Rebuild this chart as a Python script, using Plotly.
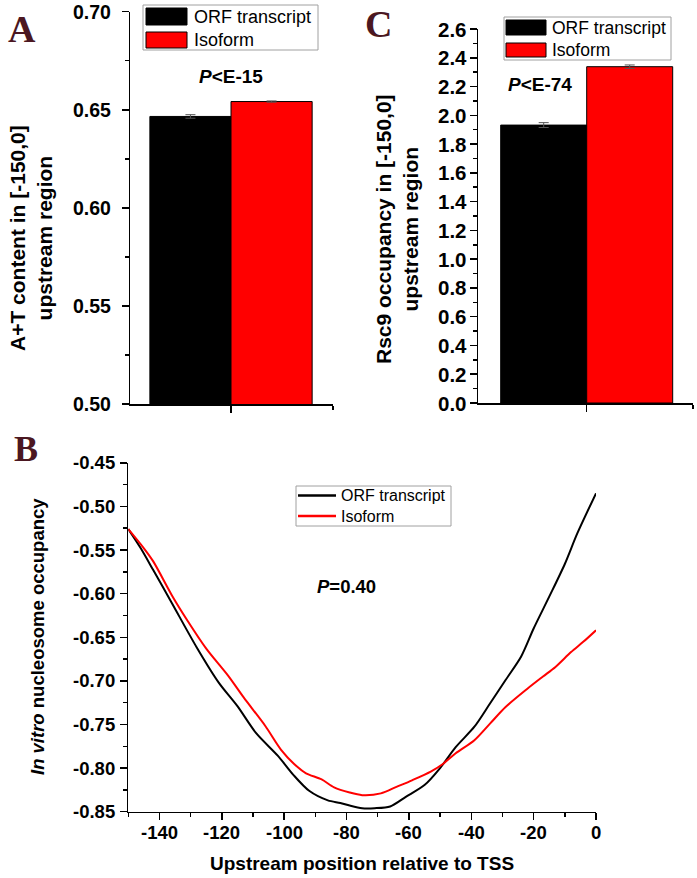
import plotly.graph_objects as go

W, H = 697, 878

# ---------------- data ----------------
groups = ["ORF transcript", "Isoform"]
group_index = [0, 1]
bar_colors = ["#000000", "#FF0000"]

at_content = [0.6466, 0.6542]
at_err = [0.0009, 0.0003]

rsc9_occ = [1.932, 2.338]
rsc9_err = [0.017, 0.012]

orf_pos = [-150, -146, -142, -136, -128, -121, -115, -109, -102, -97, -92, -86, -82, -79,
           -75, -71, -66, -61, -55, -50, -45, -39, -34, -29, -24, -20, -15, -10, -6, 0]
orf_occ = [-0.526, -0.548, -0.573, -0.611, -0.662, -0.702, -0.729, -0.760, -0.786, -0.808,
           -0.826, -0.837, -0.840, -0.843, -0.846, -0.846, -0.844, -0.833, -0.8195, -0.800,
           -0.776, -0.7526, -0.726, -0.699, -0.672, -0.640, -0.6035, -0.566, -0.531, -0.485]

iso_pos = [-150, -145, -142, -136, -131, -125, -118, -113, -106, -101, -96, -93, -88, -84,
           -79, -75, -69, -64, -59, -53, -49, -45, -39, -34, -29, -22, -17, -13, -8, -4, 0]
iso_occ = [-0.526, -0.548, -0.563, -0.602, -0.631, -0.663, -0.694, -0.719, -0.752, -0.779,
           -0.798, -0.806, -0.813, -0.822, -0.828, -0.831, -0.829, -0.8215, -0.814, -0.804,
           -0.795, -0.783, -0.768, -0.749, -0.730, -0.709, -0.695, -0.684, -0.667, -0.655, -0.642]

# tick labels
a_ticks = [0.50, 0.55, 0.60, 0.65, 0.70]
a_ticklabels = ["0.50", "0.55", "0.60", "0.65", "0.70"]
c_ticks = [0.0, 0.2, 0.4, 0.6, 0.8, 1.0, 1.2, 1.4, 1.6, 1.8, 2.0, 2.2, 2.4, 2.6]
c_ticklabels = ["0.0", "0.2", "0.4", "0.6", "0.8", "1.0", "1.2", "1.4", "1.6", "1.8",
                "2.0", "2.2", "2.4", "2.6"]
b_yticks = [-0.85, -0.80, -0.75, -0.70, -0.65, -0.60, -0.55, -0.50, -0.45]
b_yticklabels = ["-0.85", "-0.80", "-0.75", "-0.70", "-0.65", "-0.60", "-0.55", "-0.50", "-0.45"]
b_xticks = [-140, -120, -100, -80, -60, -40, -20, 0]
b_xticklabels = ["-140", "-120", "-100", "-80", "-60", "-40", "-20", "0"]

# ---------------- helpers ----------------
FONT = "Liberation Sans, Arial, sans-serif"
SERIF = "Liberation Serif, Times New Roman, serif"
LETTER_COLOR = "#4B1721"


def px(x):
    return x / W


def py(y):
    return 1 - y / H


fig = go.Figure()

# Panel A bars
fig.add_trace(go.Bar(
    x=group_index, y=at_content, width=1,
    marker=dict(color=bar_colors, line=dict(color="black", width=1)),
    error_y=dict(type="data", array=at_err, color="#555555", thickness=1, width=5),
    xaxis="x", yaxis="y", showlegend=False,
))
# Panel C bars
fig.add_trace(go.Bar(
    x=group_index, y=rsc9_occ, width=1,
    marker=dict(color=bar_colors, line=dict(color="black", width=1)),
    error_y=dict(type="data", array=rsc9_err, color="#555555", thickness=1, width=5),
    xaxis="x2", yaxis="y2", showlegend=False,
))
# Panel B lines
fig.add_trace(go.Scatter(x=orf_pos, y=orf_occ, mode="lines",
                         line=dict(color="black", width=2, shape="spline", smoothing=0.8),
                         xaxis="x3", yaxis="y3", showlegend=False))
fig.add_trace(go.Scatter(x=iso_pos, y=iso_occ, mode="lines",
                         line=dict(color="#FF0000", width=2, shape="spline", smoothing=0.8),
                         xaxis="x3", yaxis="y3", showlegend=False))

axis_common = dict(showline=True, linecolor="black", linewidth=1.5, ticks="outside",
                   ticklen=7, tickwidth=1.5, tickcolor="black", showgrid=False,
                   zeroline=False, mirror=False, showticklabels=False, automargin=False)
minor_common = dict(ticklen=4, tickcolor="black", tickwidth=1.5)

fig.update_layout(
    width=W, height=H, margin=dict(l=0, r=0, t=0, b=0, autoexpand=False),
    paper_bgcolor="white", plot_bgcolor="white", bargap=0,
    xaxis=dict(domain=[px(130), px(333)], range=[-0.745, 1.757], anchor="y",
               tickvals=[0.5],
               minor=dict(tickvals=[1.757], **minor_common),
               **axis_common),
    yaxis=dict(domain=[py(404), py(11.7)], range=[0.5, 0.7], anchor="x",
               tickvals=a_ticks,
               minor=dict(dtick=0.025, **minor_common),
               **axis_common),
    xaxis2=dict(domain=[px(478), px(693)], range=[-0.764, 1.736], anchor="y2",
                tickvals=[0.5],
                minor=dict(tickvals=[1.736], **minor_common),
                **axis_common),
    yaxis2=dict(domain=[py(403), py(29)], range=[0, 2.6], anchor="x2",
                tickvals=c_ticks,
                minor=dict(dtick=0.1, **minor_common),
                **axis_common),
    xaxis3=dict(domain=[px(128.3), px(596)], range=[-150, 0], anchor="y3",
                tickvals=b_xticks,
                minor=dict(dtick=10, tick0=0, **minor_common),
                **axis_common),
    yaxis3=dict(domain=[py(811.7), py(462.8)], range=[-0.85, -0.45], anchor="x3",
                tickvals=b_yticks,
                minor=dict(dtick=0.025, tick0=-0.85, **minor_common),
                **axis_common),
)

shapes = []
annotations = []


def text(x, y, s, size, xanchor="center", angle=0, family=FONT, color="black",
         xref="paper", yref="paper"):
    annotations.append(dict(
        x=px(x) if xref == "paper" else x, y=py(y) if yref == "paper" else y,
        xref=xref, yref=yref, text=s, showarrow=False,
        xanchor=xanchor, yanchor="middle", textangle=angle,
        font=dict(family=family, size=size, color=color),
    ))


def rect(x0, y0, x1, y1, fill, line_color, lw=1):
    shapes.append(dict(type="rect", xref="paper", yref="paper",
                       x0=px(x0), x1=px(x1), y0=py(y1), y1=py(y0),
                       fillcolor=fill, line=dict(color=line_color, width=lw)))


# Bold tick labels, placed through the axes' own scales
for v, s in zip(a_ticks, a_ticklabels):
    text(113, v, "<b>%s</b>" % s, 19.5, xanchor="right", yref="y")
for v, s in zip(c_ticks, c_ticklabels):
    text(469, v, "<b>%s</b>" % s, 20.5, xanchor="right", yref="y2")
for v, s in zip(b_yticks, b_yticklabels):
    text(117, v, "<b>%s</b>" % s, 18.5, xanchor="right", yref="y3")
for v, s in zip(b_xticks, b_xticklabels):
    text(v, 832, "<b>%s</b>" % s, 18.5, xref="x3")

# Panel letters
text(22, 29, "<b>A</b>", 38, family=SERIF, color=LETTER_COLOR)
text(378.5, 24, "<b>C</b>", 38, family=SERIF, color=LETTER_COLOR)
text(25.5, 449, "<b>B</b>", 36, family=SERIF, color=LETTER_COLOR)

# Axis titles
text(31, 238, "<b>A+T content in [-150,0]<br>upstream region</b>", 21, angle=-90)
text(397, 229, "<b>Rsc9 occupancy in [-150,0]<br>upstream region</b>", 21, angle=-90)
text(37, 637, "<b><i>In vitro</i> nucleosome occupancy</b>", 18.5, angle=-90)
text(362, 863, "<b>Upstream position relative to TSS</b>", 19)

# P-values
text(231, 76, "<b><i>P</i>&lt;E-15</b>", 19)
text(539.5, 84.5, "<b><i>P</i>&lt;E-74</b>", 19)
text(346.5, 586, "<b><i>P</i>=0.40</b>", 18.5)

# Legend A
rect(143, 5, 318, 50, "white", "#A0A0A0")
rect(146, 8, 187, 25, bar_colors[0], "black")
rect(146, 32, 187, 48, bar_colors[1], "black")
text(192, 17, groups[0], 18, xanchor="left")
text(192, 40, groups[1], 18, xanchor="left")

# Legend C
rect(504, 17, 671, 60, "white", "#A0A0A0")
rect(506, 20, 546, 35, bar_colors[0], "black")
rect(506, 43, 546, 57, bar_colors[1], "black")
text(550, 28, groups[0], 17.5, xanchor="left")
text(550, 50, groups[1], 17.5, xanchor="left")

# Legend B
rect(296, 486, 451, 526, "white", "#A0A0A0")
shapes.append(dict(type="line", xref="paper", yref="paper", x0=px(298), x1=px(336),
                   y0=py(495.5), y1=py(495.5), line=dict(color="black", width=2.5)))
shapes.append(dict(type="line", xref="paper", yref="paper", x0=px(298), x1=px(336),
                   y0=py(516), y1=py(516), line=dict(color="#FF0000", width=2.5)))
text(339, 495.5, groups[0], 16, xanchor="left")
text(339, 516, groups[1], 16, xanchor="left")

fig.update_layout(shapes=shapes, annotations=annotations)

fig.write_html("out.html",
               config={"displayModeBar": False, "staticPlot": True},
               post_script="document.body.style.margin='0px';document.body.style.overflow='hidden';")
